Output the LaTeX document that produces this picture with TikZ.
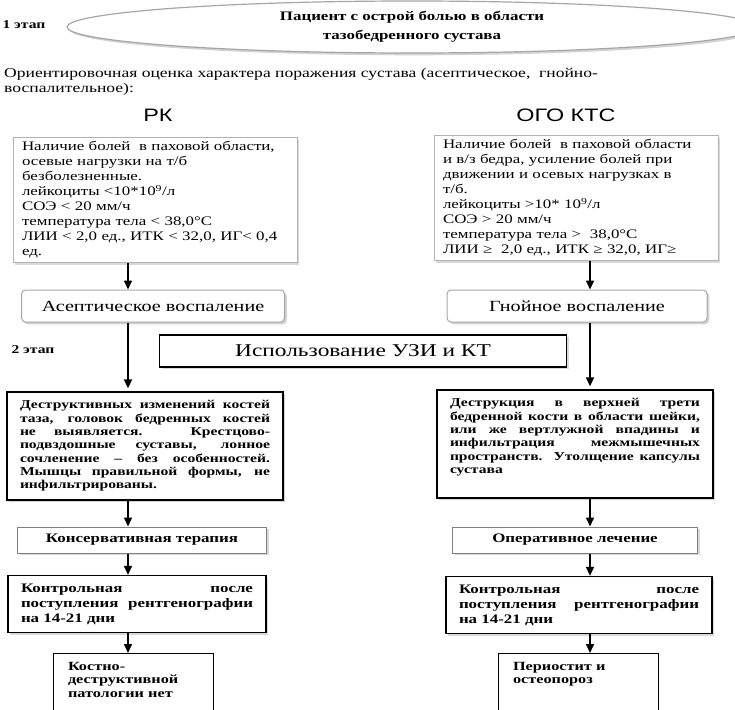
\documentclass[tikz,border=0pt]{standalone}
\usepackage{fontspec}
\setmainfont{Liberation Serif}[FakeStretch=1.3]
\newfontfamily\headfont{Liberation Sans}[FakeStretch=1.3]
\usetikzlibrary{shapes.geometric, shadows, arrows.meta}
\tikzstyle{every node}=[inner sep=0pt]
\tikzstyle{stage}=[font=\bfseries\fontsize{12}{14}\selectfont]
\tikzstyle{title}=[font=\headfont\fontsize{18}{20}\selectfont]
\tikzstyle{symptbox}=[draw=gray!60, line width=0.6pt, fill=white, drop shadow={opacity=0.3},
    align=left, text width=266, inner xsep=9, inner ysep=4, font=\fontsize{13}{15}\selectfont]
\tikzstyle{diagbox}=[draw=gray!70, line width=1pt, rounded corners=4pt, fill=white,
    drop shadow={opacity=0.35}, minimum height=32, font=\fontsize{15.5}{18}\selectfont]
\tikzstyle{findbox}=[draw, line width=1.3pt, fill=white, drop shadow={opacity=0.35},
    align=justify, text width=250, inner xsep=13, minimum height=108,
    font=\bfseries\fontsize{12}{13.3}\selectfont]
\tikzstyle{treatbox}=[draw=gray, line width=1pt, fill=white, drop shadow={opacity=0.3},
    minimum height=26, font=\bfseries\fontsize{13}{15}\selectfont]
\tikzstyle{ctrlbox}=[draw, line width=1.3pt, fill=white, drop shadow={opacity=0.3},
    align=justify, inner xsep=13, minimum height=57, font=\bfseries\fontsize{13}{15}\selectfont]
\tikzstyle{resbox}=[draw, line width=1pt, fill=white, anchor=north, align=left,
    text width=130, inner xsep=15, inner ysep=9, font=\bfseries\fontsize{12.5}{13.3}\selectfont]
\tikzstyle{arr}=[line width=1.5pt, -{Triangle[width=8pt, length=9pt]}]

\begin{document}
\begin{tikzpicture}[x=1pt, y=-1pt]
    \useasboundingbox (0,0) rectangle (735,709);
% Stage 1
    \node[stage] (stage1) at (24,25) {1 этап};
    \node[ellipse, draw=gray!70, line width=1.2pt, fill=white, drop shadow={opacity=0.35},
        minimum width=690, minimum height=52, align=center,
        font=\bfseries\fontsize{13}{19}\selectfont] (patient) at (412,27)
        {Пациент с острой болью в области\\тазобедренного сустава};
    \node[anchor=north west, align=left, font=\fontsize{13.5}{15}\selectfont] (intro) at (4,68)
        {Ориентировочная оценка характера поражения сустава (асептическое,~ гнойно-\\воспалительное):};
    \node[title] (rk) at (158,115) {РК};
    \node[title] (ogo) at (566,115) {ОГО КТС};
% Symptoms
    \node[symptbox] (lsympt) at (155,200) {Наличие болей~ в паховой области,\\
        осевые нагрузки на т/б\\
        безболезненные.\\
        лейкоциты <10*10\textsuperscript{9}/л\\
        СОЭ < 20 мм/ч\\
        температура тела < 38,0°С\\
        ЛИИ < 2,0 ед., ИТК < 32,0, ИГ< 0,4\\
        ед.};
    \node[symptbox] (rsympt) at (576,198) {Наличие болей~ в паховой области\\
        и в/з бедра, усиление болей при\\
        движении и осевых нагрузках в\\
        т/б.\\
        лейкоциты >10* 10\textsuperscript{9}/л\\
        СОЭ > 20 мм/ч\\
        температура тела >~ 38,0°С\\
        ЛИИ ≥~ 2,0 ед., ИТК ≥ 32,0, ИГ≥};
    \node[diagbox, minimum width=263] (asept) at (153,306) {Асептическое воспаление};
    \node[diagbox, minimum width=260] (purul) at (577,306) {Гнойное воспаление};
% Stage 2
    \node[stage] (stage2) at (33,350) {2 этап};
    \node[draw, line width=1.2pt, fill=white, drop shadow={opacity=0.3}, minimum width=407,
        minimum height=32, font=\fontsize{18}{20}\selectfont] (imaging) at (363,351)
        {Использование УЗИ и КТ};
    \node[findbox] (lfind) at (145,446) {Деструктивных изменений костей\linebreak
        таза, головок бедренных костей\linebreak
        не выявляется. Крестцово-\linebreak
        подвздошные суставы, лонное\linebreak
        сочленение – без особенностей.\linebreak
        Мышцы правильной формы, не\linebreak
        инфильтрированы.};
    \node[findbox] (rfind) at (575,444) {Деструкция в верхней трети\linebreak
        бедренной кости в области шейки,\linebreak
        или же вертлужной впадины и\linebreak
        инфильтрация межмышечных\linebreak
        пространств. Утолщение капсулы\linebreak
        сустава\rule[-16pt]{0pt}{0pt}};
% Treatment
    \node[treatbox, minimum width=249] (conserv) at (142,540) {Консервативная терапия};
    \node[treatbox, minimum width=245] (operat) at (575,540) {Оперативное лечение};
    \node[ctrlbox, text width=232] (lctrl) at (137,604) {Контрольная после\linebreak
        поступления рентгенографии\linebreak
        на 14-21 дни};
    \node[ctrlbox, text width=240] (rctrl) at (579,605) {Контрольная после\linebreak
        поступления рентгенографии\linebreak
        на 14-21 дни};
    \node[resbox] (lres) at (133,653) {Костно-\\деструктивной\\патологии нет\rule[-32pt]{0pt}{0pt}};
    \node[resbox] (rres) at (578,653) {Периостит и\\остеопороз\rule[-46pt]{0pt}{0pt}};
% Arrows
    \coordinate (lcol) at (128,0);
    \coordinate (rcol) at (590,0);
    \draw[arr] (lsympt.south -| lcol) -- (asept.north -| lcol);
    \draw[arr, shorten >=3pt] (asept.south -| lcol) -- (lfind.north -| lcol);
    \draw[arr] (lfind.south -| lcol) -- (conserv.north -| lcol);
    \draw[arr] (conserv.south -| lcol) -- (lctrl.north -| lcol);
    \draw[arr] (lctrl.south -| lcol) -- (lres.north -| lcol);
    \draw[arr] (rsympt.south -| rcol) -- (purul.north -| rcol);
    \draw[arr, shorten >=3pt] (purul.south -| rcol) -- (rfind.north -| rcol);
    \draw[arr] (rfind.south -| rcol) -- (operat.north -| rcol);
    \draw[arr] (operat.south -| rcol) -- (rctrl.north -| rcol);
    \draw[arr] (rctrl.south -| rcol) -- (rres.north -| rcol);
\end{tikzpicture}
\end{document}
